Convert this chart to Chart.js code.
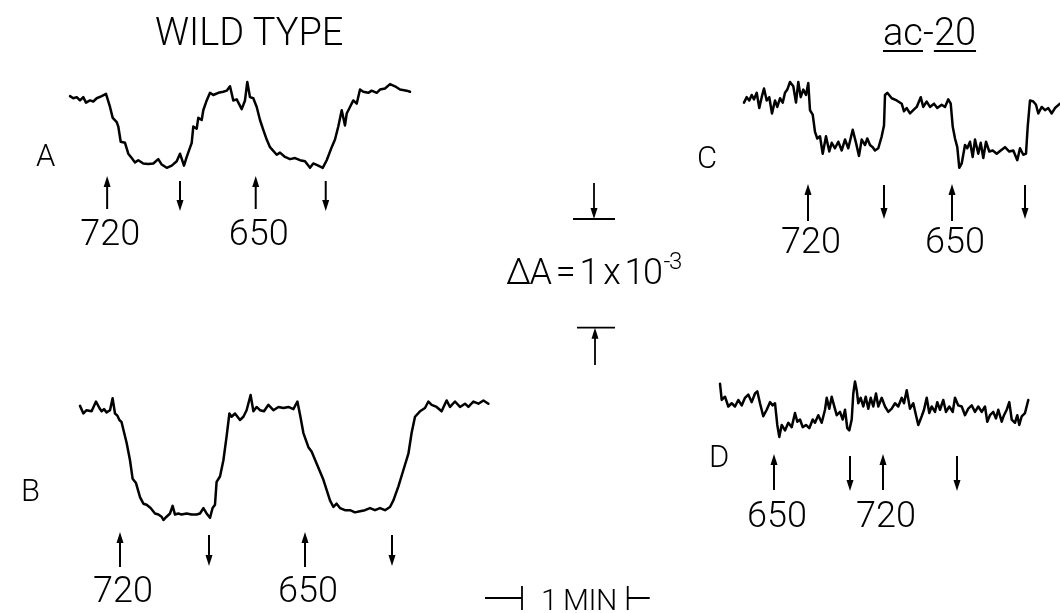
<!DOCTYPE html>
<html><head><meta charset="utf-8">
<script src="https://cdn.jsdelivr.net/npm/chart.js@4.4.1/dist/chart.umd.min.js"></script>
<style>
html,body{margin:0;padding:0;background:#fff;}
#wrap{position:relative;width:1060px;height:613px;overflow:hidden;background:#fff;}
#wrap canvas{position:absolute;left:0;top:0;}
.t{position:absolute;font-family:Roboto,"DejaVu Sans",sans-serif;font-weight:300;color:#000;white-space:nowrap;line-height:1;}
.u{text-decoration:underline;text-decoration-thickness:2px;text-underline-offset:5px;}
</style></head><body>
<div id="wrap">
<canvas id="cA" width="1060" height="613"></canvas>
<canvas id="cB" width="1060" height="613"></canvas>
<canvas id="cC" width="1060" height="613"></canvas>
<canvas id="cD" width="1060" height="613"></canvas>
<div class="t" style="left:155px;top:13px;font-size:38px">WILD TYPE</div>
<div class="t" style="left:883px;top:13px;font-size:38px"><span class="u">ac</span>-<span class="u">20</span></div>
<div class="t" style="left:36px;top:140px;font-size:31px">A</div>
<div class="t" style="left:21px;top:475px;font-size:31px">B</div>
<div class="t" style="left:697px;top:142px;font-size:31px">C</div>
<div class="t" style="left:709px;top:441px;font-size:31px">D</div>
<div class="t" style="left:506px;top:254px;font-size:36px;word-spacing:-2px;letter-spacing:-1.5px">ΔA = 1 x 10<span style="font-size:24px;position:relative;top:-15px;margin-left:2px">-3</span></div>
<div class="t" style="left:541px;top:585px;font-size:30px;letter-spacing:-0.5px;word-spacing:-1px">1 MIN</div>
</div>
<script>
// ---- Wild type, trace A (time in s, ΔA in units of 1e-5) ----
const tA = [0,2.3,4.7,7,9.3,11.2,14,16.3,18.7,22.2,25.2,28,29.9,32.7,33.8,35.5,38.5,40.8,43.2,45.5,47.8,51.3,54.8,58.3,61.8,64.2,67.7,71.2,74.7,77,79.8,81.7,85.2,86.3,88.7,89.8,92.2,93.3,95.7,98,100.3,103.8,107.3,109.7,112,114.3,116.7,120.2,122.5,124.1,126,128.3,130.7,133,135.3,137.7,140,144.7,147,150.5,154,157.5,161,164.5,168,170.3,173.8,176.9,179.7,183.2,185.5,187.8,190.2,192.5,193.7,196,198.3,200.7,203,205.3,208.8,211.2,214.7,217,220.5,224,227.5,231,235.7,238];
const vA = [68,66,67,64,67,62,64,63,66,68,70,58,48,44,40,26,25,15,11,7,9,6,5.5,6,10,5,2,4,8,15,4,12,25,40,38,48,46,55,64,71,69,71,72,73,77,64,65,56,64,81,67,66,58,46,37,28,21,14,16,12,10,11,9,8,2,6,4,2,9,21,28,40,55,41,52,58,64,61,74,72,71,73,71,74,75,79,77,74,73,72];
const evA = [26,77,130,179];
const evKindA = ['on','off','on','off'];
const evLabelA = ['720','','650',''];

// ---- Wild type, trace B ----
const tB = [0,1.7,3.3,5.8,8,9.7,10.8,12,13.3,15,16.3,17.5,18.7,19.7,20.8,21.7,23.3,25,26.3,28,30,31.7,33.3,35.3,37.5,39.2,40.8,41.7,43.3,45,46.3,47.5,49.2,50.8,53.3,55.8,58.3,60,61.7,63.3,65,66.3,67.5,68.3,70,71.7,73.3,74.7,75.8,77.5,80,81.7,83.3,85.3,86.7,88.3,90,92,94.2,96.7,99.2,101.7,104.2,106.7,108.7,110,111.7,114.2,115.8,118.3,121.7,125,126.7,128.3,130,132.5,135,137.5,140,142.5,145,147.5,150,152.5,155,156.7,159.2,161.7,164.2,165.8,167.5,170,172.5,174.2,175.8,178.3,180.8,183.3,185,187.5,190,192.5,194.2,196.7,199.2,201.7,204.2];
const vB = [105,98,101,100,109,103,100,102,99,101,112,98,96,92,90,83,71,55,38,34,21,15,14,11,6,5,3,0,3,6,13,5,6,5,6,5,5,6,11,6,2,11,14,35,40,55,77,98,95,98,92,95,101,115,100,104,101,100,106,101,104,103,104,102,109,97,80,67,63,52,37,18,12,15,11,9,9,7,8,9,11,9,11,9,12,18,31,46,61,80,95,100,103,109,106,104,100,110,104,109,104,107,104,109,107,110,107];
const evB = [20,64.5,112.5,156];
const evKindB = ['on','off','on','off'];
const evLabelB = ['720','','650',''];

// ---- ac-20, trace C ----
const tC = [0,1.9,3.7,5.4,7,8.9,10.7,12.4,14,15.9,17.7,19.6,21.7,23.3,25.2,27.1,28.7,30.3,32.2,34.5,36.4,38,39.7,41.5,43.4,45,46.2,48.1,49.7,51.3,53.2,55.1,57.4,59.7,61.4,63.7,66,68.4,70.7,73,76.1,78.4,80.5,82.4,84.7,86.3,88.2,90.1,91.7,94,96.4,98,98.7,100.3,103.4,106.9,110.4,112,113.9,116.2,118.5,120.9,123.7,125.5,127.9,130.2,133,135.3,138.4,140.7,143,144.7,146.1,147.7,149.3,150.7,152.4,154.7,156.3,158.2,160.1,161.7,164,165.7,167.5,169.4,171.7,174.1,176.9,179.7,182.7,185.7,188.5,191.3,193.2,195.5,197.4,198.6,200.2,202.5,204.4,206,208.4,210.7,213,215.4,217.7,221.2];
const vC = [62,67,64,69,65,71,57,67,75,64,67,52,64,58,66,62,71,74,81,77,62,81,67,74,69,80,55,51,35,29,31,15,31,17,25,20,26,18,28,20,37,25,13,28,23,29,23,21,18,20,31,41,69,71,66,64,61,54,57,52,55,58,67,58,63,58,61,57,60,58,65,61,40,29,21,2,6,23,20,26,12,28,15,25,11,26,17,18,15,18,21,17,18,9,20,14,15,40,64,63,60,52,58,55,57,52,57,61];
const evC = [44.8,98,145.6,196.7];
const evKindC = ['on','off','on','off'];
const evLabelC = ['720','','650',''];

// ---- ac-20, trace D ----
const tD = [0,1.2,3.5,5.8,8.2,10.5,12.8,15.2,17.5,19.8,22.2,24.5,26.1,28,30.3,32.7,35,36.9,38.5,40.1,41.5,43.2,45.5,47.8,50.2,52.5,54.1,56,57.9,60.2,62.5,64.9,66.5,68.8,71.2,73.5,74.7,76.5,78.2,79.8,81.7,84,85.9,87.5,89.1,90.5,92.2,93.3,94.5,95.7,96.8,98.5,100.3,102,103.8,105.5,107.3,109.2,110.8,113.2,115.5,117.8,120.2,122.5,124.8,127.2,128.8,130.7,133,135.3,137.2,138.8,141.2,142.8,144.7,146.5,148.2,150.5,152.1,154,156.3,158.2,160.5,162.9,164.5,166.8,169.2,171.5,173.8,176.2,178.5,180.8,183.2,185.5,187.1,189,191.3,193.2,194.8,197.2,198.8,200.7,202.5,204.2,206.5,208.1,209.5,211.2,213.5,215.8];
const vD = [50,35,38,29,32,29,35,30,37,40,33,41,43,32,20,26,33,30,32,12,1,12,7,14,10,23,15,17,10,12,9,17,14,21,14,26,37,27,38,30,21,24,17,26,9,7,17,41,52,44,32,37,29,38,27,37,29,41,29,37,29,24,27,32,29,37,32,44,27,32,21,12,20,26,37,23,29,24,33,26,35,24,29,24,37,30,29,21,27,30,24,29,24,29,15,21,24,18,26,15,21,26,33,17,14,21,12,20,23,35];
const evD = [37.8,91,114.1,165.9];
const evKindD = ['on','off','on','off'];
const evLabelD = ['650','','720',''];

// calibration marks
const calDeltaA = 100;   // 1e-3 in units of 1e-5
const calTime = 74;      // time-bar length in panel-A time units

const INK = '#000';
const FONT = '300 36px Roboto, "DejaVu Sans", sans-serif';

function arrow(ctx, x, yFrom, yTo) {
  const dir = yTo > yFrom ? 1 : -1;
  ctx.beginPath(); ctx.moveTo(x, yFrom); ctx.lineTo(x, yTo - dir * 6); ctx.stroke();
  ctx.beginPath(); ctx.moveTo(x, yTo); ctx.lineTo(x - 3.5, yTo - dir * 11); ctx.lineTo(x + 3.5, yTo - dir * 11); ctx.closePath(); ctx.fill();
}

const eventPlugin = {
  id: 'events',
  afterDatasetsDraw(chart, args, o) {
    const ctx = chart.ctx, x = chart.scales.x, b = chart.chartArea.bottom;
    ctx.save();
    ctx.strokeStyle = INK; ctx.fillStyle = INK; ctx.lineWidth = 2;
    ctx.font = FONT; ctx.textAlign = 'center'; ctx.textBaseline = 'alphabetic';
    o.times.forEach((t, i) => {
      const px = x.getPixelForValue(t);
      if (o.kinds[i] === 'on') arrow(ctx, px, b + o.g.upTail, b + o.g.upTip);
      else arrow(ctx, px, b + o.g.downTail, b + o.g.downTip);
      if (o.labels[i]) ctx.fillText(o.labels[i], px + 3, b + o.g.label);
    });
    ctx.restore();
  }
};

const calPlugin = {
  id: 'cal',
  afterDatasetsDraw(chart) {
    const ctx = chart.ctx, x = chart.scales.x, y = chart.scales.y;
    const dA = y.getPixelForValue(0) - y.getPixelForValue(calDeltaA);
    const dT = x.getPixelForValue(calTime) - x.getPixelForValue(0);
    ctx.save();
    ctx.strokeStyle = INK; ctx.fillStyle = INK; ctx.lineWidth = 1.8;
    const cx = 594, yTop = 219, yBot = yTop + dA;
    ctx.beginPath(); ctx.moveTo(573, yTop); ctx.lineTo(615, yTop); ctx.stroke();
    arrow(ctx, cx, 183, yTop);
    ctx.beginPath(); ctx.moveTo(577, yBot); ctx.lineTo(615, yBot); ctx.stroke();
    arrow(ctx, cx + 1, 365, yBot);
    const l = 522, r = l + dT, ym = 598;
    ctx.beginPath();
    ctx.moveTo(485, ym); ctx.lineTo(l, ym);
    ctx.moveTo(l, 586); ctx.lineTo(l, 610);
    ctx.moveTo(r, 586); ctx.lineTo(r, 610);
    ctx.moveTo(r, ym); ctx.lineTo(r + 22, ym);
    ctx.stroke();
    ctx.restore();
  }
};

function panel(id, t, v, xmax, vmax, rect, ev, kinds, labels, g, extra) {
  return new Chart(document.getElementById(id), {
    type: 'line',
    data: { datasets: [{
      data: t.map((tt, i) => ({ x: tt, y: v[i] })),
      borderColor: INK, borderWidth: 2.5, pointRadius: 0, tension: 0,
      clip: false, borderJoinStyle: 'round', borderCapStyle: 'round', fill: false
    }] },
    options: {
      responsive: false, animation: false, events: [],
      layout: { padding: { left: rect[0], right: 1060 - rect[1], top: rect[2], bottom: 613 - rect[3] } },
      scales: {
        x: { type: 'linear', display: false, min: 0, max: xmax },
        y: { type: 'linear', display: false, min: 0, max: vmax }
      },
      plugins: {
        legend: { display: false }, tooltip: { enabled: false },
        events: { times: ev, kinds: kinds, labels: labels, g: g }
      }
    },
    plugins: extra ? [eventPlugin, calPlugin] : [eventPlugin]
  });
}

panel('cA', tA, vA, 238, 82.8, [70, 410, 80, 170], evA, evKindA, evLabelA,
  { upTip: 6, upTail: 39, downTail: 11, downTip: 41, label: 75 }, true);
panel('cB', tB, vB, 210, 119.6, [80, 500, 390, 520], evB, evKindB, evLabelB,
  { upTip: 12, upTail: 47, downTail: 15, downTip: 46, label: 82 }, false);
panel('cC', tC, vC, 221.2, 82.8, [744, 1060, 80, 170], evC, evKindC, evLabelC,
  { upTip: 14, upTail: 51, downTail: 15, downTip: 49, label: 83 }, false);
panel('cD', tD, vD, 224, 62.6, [720, 1040, 370, 438], evD, evKindD, evLabelD,
  { upTip: 16, upTail: 52, downTail: 18, downTip: 53, label: 89 }, false);
</script>
</body></html>
